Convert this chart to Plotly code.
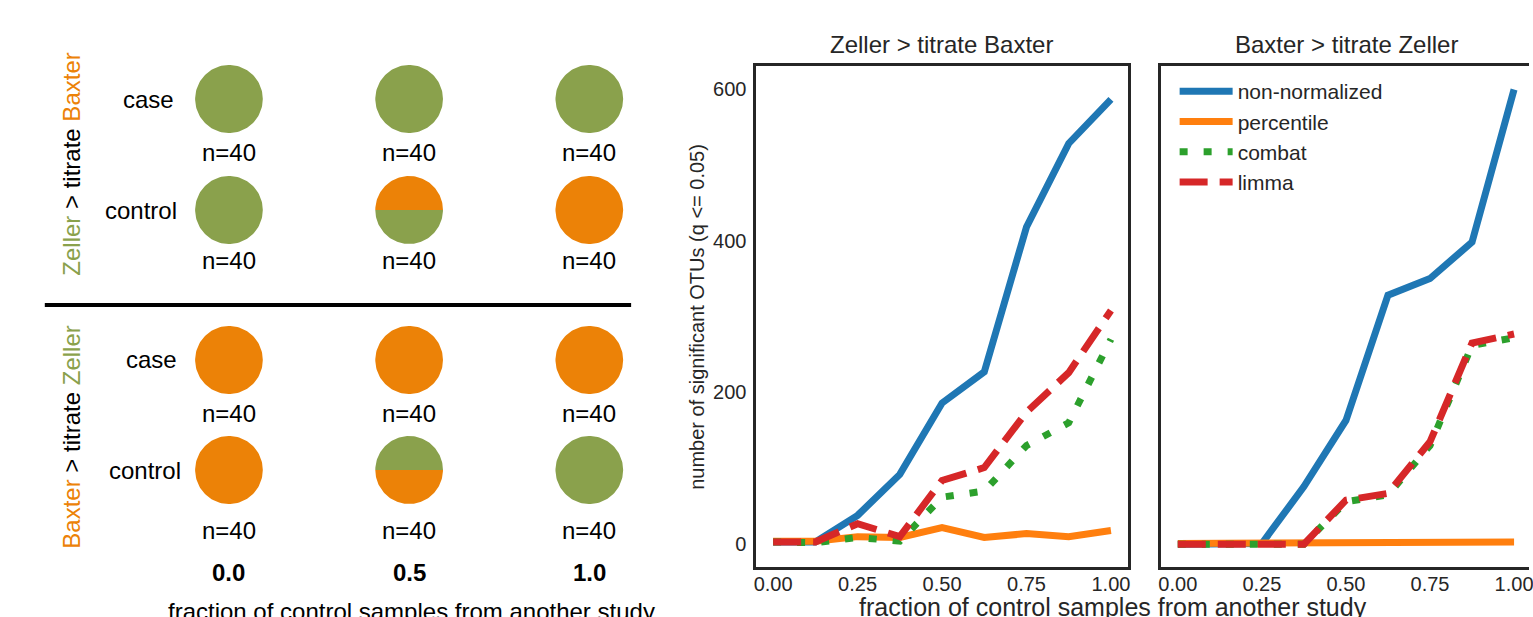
import numpy as np
import plotly.graph_objects as go

# ---------------- data ----------------
FRACTION = [0.0, 0.125, 0.25, 0.375, 0.5, 0.625, 0.75, 0.875, 1.0]

# Zeller > titrate Baxter
NONNORM_ZB = [3, 3, 38, 92, 186, 227, 418, 528, 586]
PERCENTILE_ZB = [4, 4, 10, 9, 22, 9, 14, 10, 18]
COMBAT_ZB = [3, 2, 9, 4, 62, 70, 130, 160, 270]
LIMMA_ZB = [3, 3, 27, 10, 84, 101, 174, 226, 308]

# Baxter > titrate Zeller
NONNORM_BZ = [0, 0, 1, 76, 163, 328, 350, 398, 599]
PERCENTILE_BZ = [1, 1, 1, 1, 1, 2, 1, 1, 3]
COMBAT_BZ = [0, 0, 0, 0, 56, 65, 130, 262, 272]
LIMMA_BZ = [0, 0, 0, 0, 58, 67, 135, 265, 277]

SERIES_NAMES = ["non-normalized", "percentile", "combat", "limma"]
PANEL_TITLES = ["Zeller > titrate Baxter", "Baxter > titrate Zeller"]
Y_TICKS = [0, 200, 400, 600]
X_TICKS = [0.0, 0.25, 0.5, 0.75, 1.0]

# schematic
SCHEMATIC_FRACTIONS = [0.0, 0.5, 1.0]
SCHEMATIC_ROWS = ["case", "control"]
SCHEMATIC_N = [[[40, 40, 40], [40, 40, 40]],
               [[40, 40, 40], [40, 40, 40]]]
SCHEMATIC_STUDIES = [("Zeller", "Baxter"), ("Baxter", "Zeller")]

# ---------------- style / layout ----------------
W, H = 1533, 617
STUDY_COLOR = {"Zeller": "#8AA14C", "Baxter": "#EC8207"}
LINE_COLORS = ["#1f77b4", "#ff7f0e", "#2ca02c", "#d62728"]
LINE_DASH = ["solid", "solid", "8px,16px", "28px,12px"]
LW = 7
AX_COLOR = "#262626"
FONT = "Liberation Sans, Arial, Helvetica, sans-serif"


def px(x):
    return x / W


def py(y):
    return 1 - y / H


fig = go.Figure()

# ---------------- line panels ----------------
panels = [
    [NONNORM_ZB, PERCENTILE_ZB, COMBAT_ZB, LIMMA_ZB],
    [NONNORM_BZ, PERCENTILE_BZ, COMBAT_BZ, LIMMA_BZ],
]
for i, series in enumerate(panels):
    for j, vals in enumerate(series):
        fig.add_trace(go.Scatter(
            x=FRACTION, y=vals, mode="lines", name=SERIES_NAMES[j],
            line=dict(color=LINE_COLORS[j], width=LW, dash=LINE_DASH[j]),
            xaxis="x" if i == 0 else "x2", yaxis="y" if i == 0 else "y2",
            showlegend=(i == 1), hoverinfo="skip",
        ))

# ---------------- schematic ----------------
COL0_PX, COL1_PX = 227.0, 589.0
UNIT = COL1_PX - COL0_PX
LEFT_W = 680.0
R_PX = 34.0
ROW_Y = [[99, 210], [360, 470]]
N_OFFSET = [[53, 50], [53, 60]]
ROW_LABEL_RIGHT = [[174, 177], [177, 181]]
PANEL_LABEL_Y = [164, 437]


def segment_level(f):
    lo, hi = -1.0, 1.0
    for _ in range(80):
        mid = (lo + hi) / 2
        area = (np.arccos(mid) - mid * np.sqrt(1 - mid * mid)) / np.pi
        if area > f:
            lo = mid
        else:
            hi = mid
    return (lo + hi) / 2


def circle_parts(cx, cy, rx, ry, f_top):
    if f_top <= 0:
        t = np.linspace(0, 2 * np.pi, 120)
        return None, (cx + rx * np.cos(t), cy - ry * np.sin(t))
    if f_top >= 1:
        t = np.linspace(0, 2 * np.pi, 120)
        return (cx + rx * np.cos(t), cy - ry * np.sin(t)), None
    a = np.arcsin(segment_level(f_top))
    t1 = np.linspace(a, np.pi - a, 80)
    t2 = np.linspace(np.pi - a, 2 * np.pi + a, 80)
    return ((cx + rx * np.cos(t1), cy - ry * np.sin(t1)),
            (cx + rx * np.cos(t2), cy - ry * np.sin(t2)))


polys = {"Zeller": ([], []), "Baxter": ([], [])}
rx = R_PX / UNIT
for p, (own, other) in enumerate(SCHEMATIC_STUDIES):
    for r, row in enumerate(SCHEMATIC_ROWS):
        for c, f in enumerate(SCHEMATIC_FRACTIONS):
            f_other = 0.0 if row == "case" else f
            top, bot = circle_parts(f, ROW_Y[p][r], rx, R_PX, f_other)
            for part, study in ((top, other), (bot, own)):
                if part is None:
                    continue
                polys[study][0].extend(list(part[0]) + [None])
                polys[study][1].extend(list(part[1]) + [None])

for study, (xs, ys) in polys.items():
    fig.add_trace(go.Scatter(
        x=xs, y=ys, mode="lines", fill="toself", fillcolor=STUDY_COLOR[study],
        line=dict(width=0, color=STUDY_COLOR[study]), xaxis="x3", yaxis="y3",
        showlegend=False, hoverinfo="skip",
    ))

annotations = []
black = dict(family=FONT, size=24, color="black")
for p, (own, other) in enumerate(SCHEMATIC_STUDIES):
    for r, row in enumerate(SCHEMATIC_ROWS):
        annotations.append(dict(
            text=row, x=px(ROW_LABEL_RIGHT[p][r]), y=py(ROW_Y[p][r]),
            xref="paper", yref="paper", xanchor="right", yanchor="middle",
            showarrow=False, font=black))
        for c, f in enumerate(SCHEMATIC_FRACTIONS):
            annotations.append(dict(
                text=f"n={SCHEMATIC_N[p][r][c]}", x=f, y=ROW_Y[p][r] + N_OFFSET[p][r],
                xref="x3", yref="y3", xanchor="center", yanchor="middle",
                showarrow=False, font=black))
    label = (f"<span style='color:{STUDY_COLOR[own]}'>{own}</span> &gt; titrate "
             f"<span style='color:{STUDY_COLOR[other]}'>{other}</span>")
    annotations.append(dict(
        text=label, x=px(68), y=py(PANEL_LABEL_Y[p]), xref="paper", yref="paper",
        xanchor="center", yanchor="middle", textangle=-90, showarrow=False,
        font=black))

for f in SCHEMATIC_FRACTIONS:
    annotations.append(dict(
        text=f"<b>{f:.1f}</b>", x=f, y=572, xref="x3", yref="y3",
        xanchor="center", yanchor="middle", showarrow=False,
        font=dict(family=FONT, size=24, color="black")))

annotations.append(dict(
    text="fraction of control samples from another study", x=px(410), y=py(611),
    xref="paper", yref="paper", xanchor="center", yanchor="middle",
    showarrow=False, font=dict(family=FONT, size=24, color="black")))

# panel titles, labels
gray = dict(family=FONT, size=24, color=AX_COLOR)
for t, xc in zip(PANEL_TITLES, [943, 1350]):
    annotations.append(dict(text=t.replace(">", "&gt;"), x=px(xc), y=py(45),
                            xref="paper", yref="paper", xanchor="center",
                            yanchor="middle", showarrow=False, font=gray))
annotations.append(dict(
    text="number of significant OTUs (q &lt;= 0.05)", x=px(697), y=py(317),
    xref="paper", yref="paper", xanchor="center", yanchor="middle",
    textangle=-90, showarrow=False, font=dict(family=FONT, size=20, color=AX_COLOR)))
annotations.append(dict(
    text="fraction of control samples from another study", x=px(1115), y=py(607),
    xref="paper", yref="paper", xanchor="center", yanchor="middle",
    showarrow=False, font=dict(family=FONT, size=25, color=AX_COLOR)))

shapes = [dict(type="line", xref="paper", yref="paper", x0=px(42), x1=px(631),
               y0=py(305), y1=py(305), line=dict(color="black", width=4))]

tickfont = dict(family=FONT, size=20, color=AX_COLOR)
common_x = dict(range=[-0.05, 1.05], tickvals=X_TICKS, tickformat=".2f",
                showline=True, mirror=True, linecolor=AX_COLOR, linewidth=2.5,
                showgrid=False, zeroline=False, ticks="", tickfont=tickfont,
                ticklabelstandoff=-3, ticklabeloverflow="allow")
common_y = dict(range=[-30, 630], tickvals=Y_TICKS, showline=True,
                linecolor=AX_COLOR, linewidth=2.5, showgrid=False, zeroline=False,
                ticks="", tickfont=tickfont, domain=[py(567), py(66)],
                ticklabelstandoff=3)

x2_hi = -0.05 + (W - 1163.3) / 337.8
fig.update_layout(
    width=W, height=H, margin=dict(l=0, r=0, t=0, b=0),
    paper_bgcolor="white", plot_bgcolor="white",
    font=dict(family=FONT, color=AX_COLOR),
    xaxis=dict(common_x, domain=[px(756.7), px(1130)], anchor="y"),
    yaxis=dict(common_y, mirror=True, anchor="x"),
    xaxis2=dict(common_x, domain=[px(1163.3), 1.0], range=[-0.05, x2_hi], anchor="y2"),
    yaxis2=dict(common_y, mirror=False, showticklabels=False, anchor="x2"),
    xaxis3=dict(domain=[0, px(LEFT_W)], range=[-COL0_PX / UNIT, (LEFT_W - COL0_PX) / UNIT],
                visible=False, anchor="y3", fixedrange=True),
    yaxis3=dict(domain=[0, 1], range=[H, 0], visible=False, anchor="x3", fixedrange=True),
    legend=dict(x=px(1177), y=py(71), xanchor="left", yanchor="top",
                bgcolor="rgba(0,0,0,0)", font=dict(family=FONT, size=21, color=AX_COLOR),
                itemwidth=53, tracegroupgap=0),
    annotations=annotations, shapes=shapes,
)

fig.write_html(
    "out.html",
    config={"displayModeBar": False},
    post_script="document.body.style.margin='0px';document.body.style.overflow='hidden';",
)
